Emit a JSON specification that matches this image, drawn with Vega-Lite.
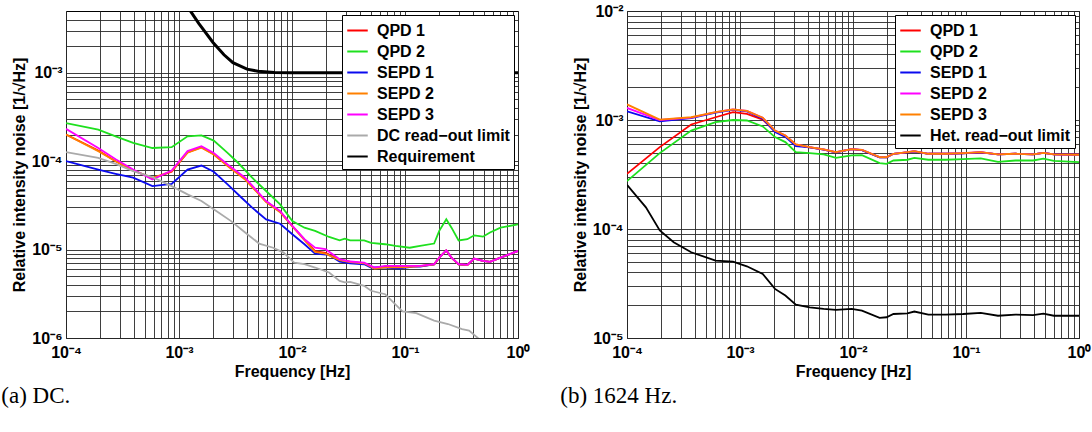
{
"$schema": "https://vega.github.io/schema/vega-lite/v6.json",
"padding": {"left": 0, "top": 2, "right": 0, "bottom": 0},
"background": "white",
"bounds": "flush",
"spacing": 109,
"config": {
 "view": {"stroke": "black", "strokeWidth": 1},
 "axis": {"grid": true, "gridColor": "#2a2a2a", "gridOpacity": 0.9, "gridWidth": 1, "domain": false, "ticks": false,
  "labelFont": "Liberation Sans", "labelFontWeight": "bold", "labelFontSize": 16, "labelColor": "black",
  "titleFont": "Liberation Sans", "titleFontWeight": "bold", "titleFontSize": 16, "titleColor": "black",
  "labelOverlap": false, "labelFlush": false},
 "legend": {"orient": "top-right", "offset": 4, "fillColor": "white", "strokeColor": "black", "padding": 4,
  "symbolType": "stroke", "symbolStrokeWidth": 2, "symbolSize": 420,
  "labelFont": "Liberation Sans", "labelFontWeight": "bold", "labelFontSize": 16, "labelColor": "black", "rowPadding": 1, "labelOffset": 8}
},
"datasets": {
 "dc": [
  {"s":"QPD 1","f":1e-4,"v":2.0e-4},{"s":"QPD 1","f":1.93e-4,"v":1.32e-4},{"s":"QPD 1","f":2.75e-4,"v":1.0e-4},{"s":"QPD 1","f":3.93e-4,"v":7.9e-5},{"s":"QPD 1","f":5.82e-4,"v":6.4e-5},{"s":"QPD 1","f":8.61e-4,"v":7.6e-5},{"s":"QPD 1","f":1.19e-3,"v":1.26e-4},{"s":"QPD 1","f":1.58e-3,"v":1.44e-4},{"s":"QPD 1","f":2.03e-3,"v":1.2e-4},{"s":"QPD 1","f":2.69e-3,"v":8.9e-5},{"s":"QPD 1","f":3.85e-3,"v":6.3e-5},{"s":"QPD 1","f":5.9e-3,"v":3.5e-5},{"s":"QPD 1","f":7.85e-3,"v":2.7e-5},{"s":"QPD 1","f":1.007e-2,"v":1.85e-5},{"s":"QPD 1","f":1.29e-2,"v":1.3e-5},{"s":"QPD 1","f":1.6e-2,"v":9.6e-6},{"s":"QPD 1","f":1.98e-2,"v":9.2e-6},{"s":"QPD 1","f":2.64e-2,"v":7.7e-6},{"s":"QPD 1","f":3.27e-2,"v":7.3e-6},{"s":"QPD 1","f":4.35e-2,"v":7.0e-6},{"s":"QPD 1","f":5.38e-2,"v":6.2e-6},{"s":"QPD 1","f":6.67e-2,"v":6.4e-6},{"s":"QPD 1","f":9.5e-2,"v":6.4e-6},{"s":"QPD 1","f":0.136,"v":6.5e-6},{"s":"QPD 1","f":0.181,"v":6.8e-6},{"s":"QPD 1","f":0.201,"v":8.1e-6},{"s":"QPD 1","f":0.232,"v":9.8e-6},{"s":"QPD 1","f":0.258,"v":8.1e-6},{"s":"QPD 1","f":0.298,"v":6.8e-6},{"s":"QPD 1","f":0.356,"v":6.7e-6},{"s":"QPD 1","f":0.41,"v":7.9e-6},{"s":"QPD 1","f":0.49,"v":7.45e-6},{"s":"QPD 1","f":0.565,"v":7.26e-6},{"s":"QPD 1","f":0.7,"v":8.1e-6},{"s":"QPD 1","f":1.0,"v":9.6e-6},

  {"s":"QPD 2","f":1e-4,"v":2.7e-4},{"s":"QPD 2","f":1.93e-4,"v":2.28e-4},{"s":"QPD 2","f":2.75e-4,"v":1.91e-4},{"s":"QPD 2","f":3.93e-4,"v":1.61e-4},{"s":"QPD 2","f":5.82e-4,"v":1.41e-4},{"s":"QPD 2","f":8.61e-4,"v":1.44e-4},{"s":"QPD 2","f":1.19e-3,"v":1.91e-4},{"s":"QPD 2","f":1.58e-3,"v":1.96e-4},{"s":"QPD 2","f":2.03e-3,"v":1.71e-4},{"s":"QPD 2","f":2.69e-3,"v":1.24e-4},{"s":"QPD 2","f":3.33e-3,"v":9.6e-5},{"s":"QPD 2","f":4.44e-3,"v":6.5e-5},{"s":"QPD 2","f":5.9e-3,"v":4.6e-5},{"s":"QPD 2","f":7.85e-3,"v":3.24e-5},{"s":"QPD 2","f":1.007e-2,"v":2.1e-5},{"s":"QPD 2","f":1.29e-2,"v":1.77e-5},{"s":"QPD 2","f":1.6e-2,"v":1.63e-5},{"s":"QPD 2","f":2.13e-2,"v":1.39e-5},{"s":"QPD 2","f":2.64e-2,"v":1.27e-5},{"s":"QPD 2","f":2.93e-2,"v":1.33e-5},{"s":"QPD 2","f":3.27e-2,"v":1.27e-5},{"s":"QPD 2","f":4.35e-2,"v":1.27e-5},{"s":"QPD 2","f":5.01e-2,"v":1.19e-5},{"s":"QPD 2","f":6.67e-2,"v":1.15e-5},{"s":"QPD 2","f":8.24e-2,"v":1.1e-5},{"s":"QPD 2","f":0.11,"v":1.05e-5},{"s":"QPD 2","f":0.136,"v":1.1e-5},{"s":"QPD 2","f":0.181,"v":1.17e-5},{"s":"QPD 2","f":0.201,"v":1.63e-5},{"s":"QPD 2","f":0.232,"v":2.2e-5},{"s":"QPD 2","f":0.258,"v":1.77e-5},{"s":"QPD 2","f":0.298,"v":1.27e-5},{"s":"QPD 2","f":0.356,"v":1.31e-5},{"s":"QPD 2","f":0.41,"v":1.45e-5},{"s":"QPD 2","f":0.49,"v":1.4e-5},{"s":"QPD 2","f":0.565,"v":1.56e-5},{"s":"QPD 2","f":0.7,"v":1.77e-5},{"s":"QPD 2","f":1.0,"v":1.93e-5},

  {"s":"SEPD 1","f":1e-4,"v":1.0e-4},{"s":"SEPD 1","f":1.93e-4,"v":8.05e-5},{"s":"SEPD 1","f":2.75e-4,"v":7.2e-5},{"s":"SEPD 1","f":3.93e-4,"v":6.5e-5},{"s":"SEPD 1","f":5.82e-4,"v":5.22e-5},{"s":"SEPD 1","f":8.61e-4,"v":5.55e-5},{"s":"SEPD 1","f":1.19e-3,"v":8.05e-5},{"s":"SEPD 1","f":1.58e-3,"v":8.93e-5},{"s":"SEPD 1","f":2.03e-3,"v":7.59e-5},{"s":"SEPD 1","f":2.69e-3,"v":5.46e-5},{"s":"SEPD 1","f":3.58e-3,"v":3.86e-5},{"s":"SEPD 1","f":4.44e-3,"v":2.98e-5},{"s":"SEPD 1","f":5.9e-3,"v":2.2e-5},{"s":"SEPD 1","f":7.85e-3,"v":1.96e-5},{"s":"SEPD 1","f":1.007e-2,"v":1.49e-5},{"s":"SEPD 1","f":1.29e-2,"v":1.15e-5},{"s":"SEPD 1","f":1.6e-2,"v":9.02e-6},{"s":"SEPD 1","f":2.13e-2,"v":8.71e-6},{"s":"SEPD 1","f":2.64e-2,"v":7.33e-6},{"s":"SEPD 1","f":3.27e-2,"v":7.01e-6},{"s":"SEPD 1","f":4.35e-2,"v":6.83e-6},{"s":"SEPD 1","f":5.01e-2,"v":6.27e-6},{"s":"SEPD 1","f":6.67e-2,"v":6.27e-6},{"s":"SEPD 1","f":8.85e-2,"v":6.1e-6},{"s":"SEPD 1","f":0.118,"v":6.43e-6},{"s":"SEPD 1","f":0.136,"v":6.43e-6},{"s":"SEPD 1","f":0.181,"v":6.8e-6},{"s":"SEPD 1","f":0.201,"v":8.1e-6},{"s":"SEPD 1","f":0.232,"v":9.8e-6},{"s":"SEPD 1","f":0.258,"v":8.1e-6},{"s":"SEPD 1","f":0.298,"v":6.8e-6},{"s":"SEPD 1","f":0.356,"v":6.7e-6},{"s":"SEPD 1","f":0.41,"v":7.9e-6},{"s":"SEPD 1","f":0.49,"v":7.45e-6},{"s":"SEPD 1","f":0.565,"v":7.26e-6},{"s":"SEPD 1","f":0.7,"v":8.1e-6},{"s":"SEPD 1","f":1.0,"v":9.6e-6},

  {"s":"SEPD 2","f":1e-4,"v":2.0e-4},{"s":"SEPD 2","f":1.93e-4,"v":1.3e-4},{"s":"SEPD 2","f":2.75e-4,"v":1.0e-4},{"s":"SEPD 2","f":3.93e-4,"v":7.85e-5},{"s":"SEPD 2","f":5.82e-4,"v":6.5e-5},{"s":"SEPD 2","f":8.61e-4,"v":7.7e-5},{"s":"SEPD 2","f":1.19e-3,"v":1.25e-4},{"s":"SEPD 2","f":1.58e-3,"v":1.42e-4},{"s":"SEPD 2","f":2.03e-3,"v":1.19e-4},{"s":"SEPD 2","f":2.69e-3,"v":8.8e-5},{"s":"SEPD 2","f":3.85e-3,"v":6.2e-5},{"s":"SEPD 2","f":5.9e-3,"v":3.45e-5},{"s":"SEPD 2","f":7.85e-3,"v":2.65e-5},{"s":"SEPD 2","f":1.007e-2,"v":1.83e-5},{"s":"SEPD 2","f":1.29e-2,"v":1.28e-5},{"s":"SEPD 2","f":1.6e-2,"v":9.4e-6},{"s":"SEPD 2","f":1.98e-2,"v":9.0e-6},{"s":"SEPD 2","f":2.64e-2,"v":7.6e-6},{"s":"SEPD 2","f":3.27e-2,"v":7.2e-6},{"s":"SEPD 2","f":4.35e-2,"v":7.0e-6},{"s":"SEPD 2","f":5.38e-2,"v":6.1e-6},{"s":"SEPD 2","f":6.67e-2,"v":6.3e-6},{"s":"SEPD 2","f":9.5e-2,"v":6.3e-6},{"s":"SEPD 2","f":0.136,"v":6.5e-6},{"s":"SEPD 2","f":0.181,"v":6.8e-6},{"s":"SEPD 2","f":0.201,"v":8.1e-6},{"s":"SEPD 2","f":0.232,"v":9.8e-6},{"s":"SEPD 2","f":0.258,"v":8.1e-6},{"s":"SEPD 2","f":0.298,"v":6.8e-6},{"s":"SEPD 2","f":0.356,"v":6.7e-6},{"s":"SEPD 2","f":0.41,"v":7.9e-6},{"s":"SEPD 2","f":0.49,"v":7.45e-6},{"s":"SEPD 2","f":0.565,"v":7.26e-6},{"s":"SEPD 2","f":0.7,"v":8.1e-6},{"s":"SEPD 2","f":1.0,"v":9.6e-6},

  {"s":"SEPD 3","f":1e-4,"v":2.32e-4},{"s":"SEPD 3","f":1.93e-4,"v":1.41e-4},{"s":"SEPD 3","f":2.75e-4,"v":1.05e-4},{"s":"SEPD 3","f":3.93e-4,"v":8.05e-5},{"s":"SEPD 3","f":5.82e-4,"v":6.21e-5},{"s":"SEPD 3","f":8.61e-4,"v":7.85e-5},{"s":"SEPD 3","f":1.19e-3,"v":1.3e-4},{"s":"SEPD 3","f":1.58e-3,"v":1.48e-4},{"s":"SEPD 3","f":2.03e-3,"v":1.24e-4},{"s":"SEPD 3","f":2.69e-3,"v":9.16e-5},{"s":"SEPD 3","f":3.85e-3,"v":6.5e-5},{"s":"SEPD 3","f":5.9e-3,"v":3.54e-5},{"s":"SEPD 3","f":7.85e-3,"v":2.73e-5},{"s":"SEPD 3","f":1.007e-2,"v":1.85e-5},{"s":"SEPD 3","f":1.29e-2,"v":1.31e-5},{"s":"SEPD 3","f":1.6e-2,"v":1.05e-5},{"s":"SEPD 3","f":1.98e-2,"v":1.01e-5},{"s":"SEPD 3","f":2.64e-2,"v":7.78e-6},{"s":"SEPD 3","f":3.27e-2,"v":7.33e-6},{"s":"SEPD 3","f":4.35e-2,"v":7.13e-6},{"s":"SEPD 3","f":5.38e-2,"v":6.27e-6},{"s":"SEPD 3","f":6.67e-2,"v":6.55e-6},{"s":"SEPD 3","f":9.5e-2,"v":6.55e-6},{"s":"SEPD 3","f":0.136,"v":6.55e-6},{"s":"SEPD 3","f":0.181,"v":6.83e-6},{"s":"SEPD 3","f":0.201,"v":8.13e-6},{"s":"SEPD 3","f":0.232,"v":9.82e-6},{"s":"SEPD 3","f":0.258,"v":8.13e-6},{"s":"SEPD 3","f":0.298,"v":6.83e-6},{"s":"SEPD 3","f":0.356,"v":6.71e-6},{"s":"SEPD 3","f":0.41,"v":7.91e-6},{"s":"SEPD 3","f":0.49,"v":7.45e-6},{"s":"SEPD 3","f":0.565,"v":7.26e-6},{"s":"SEPD 3","f":0.7,"v":8.13e-6},{"s":"SEPD 3","f":1.0,"v":9.66e-6},

  {"s":"DC read−out limit","f":1e-4,"v":1.27e-4},{"s":"DC read−out limit","f":1.93e-4,"v":1.09e-4},{"s":"DC read−out limit","f":2.75e-4,"v":9.33e-5},{"s":"DC read−out limit","f":3.93e-4,"v":7.71e-5},{"s":"DC read−out limit","f":5.82e-4,"v":6.61e-5},{"s":"DC read−out limit","f":8.61e-4,"v":5.22e-5},{"s":"DC read−out limit","f":1.19e-3,"v":4.21e-5},{"s":"DC read−out limit","f":1.58e-3,"v":3.54e-5},{"s":"DC read−out limit","f":2.17e-3,"v":2.69e-5},{"s":"DC read−out limit","f":2.89e-3,"v":2.1e-5},{"s":"DC read−out limit","f":3.85e-3,"v":1.56e-5},{"s":"DC read−out limit","f":5.12e-3,"v":1.17e-5},{"s":"DC read−out limit","f":6.81e-3,"v":1.05e-5},{"s":"DC read−out limit","f":8.43e-3,"v":9.25e-6},{"s":"DC read−out limit","f":1.045e-2,"v":7.13e-6},{"s":"DC read−out limit","f":1.29e-2,"v":6.83e-6},{"s":"DC read−out limit","f":1.6e-2,"v":6.27e-6},{"s":"DC read−out limit","f":2.13e-2,"v":5.51e-6},{"s":"DC read−out limit","f":2.64e-2,"v":4.43e-6},{"s":"DC read−out limit","f":2.93e-2,"v":4.25e-6},{"s":"DC read−out limit","f":3.27e-2,"v":4.32e-6},{"s":"DC read−out limit","f":4.35e-2,"v":3.89e-6},{"s":"DC read−out limit","f":5.01e-2,"v":3.42e-6},{"s":"DC read−out limit","f":6.67e-2,"v":3.13e-6},{"s":"DC read−out limit","f":9.5e-2,"v":2.0e-6},{"s":"DC read−out limit","f":0.126,"v":1.91e-6},{"s":"DC read−out limit","f":0.181,"v":1.57e-6},{"s":"DC read−out limit","f":0.24,"v":1.44e-6},{"s":"DC read−out limit","f":0.32,"v":1.26e-6},{"s":"DC read−out limit","f":0.369,"v":1.21e-6},{"s":"DC read−out limit","f":0.441,"v":1.0e-6},{"s":"DC read−out limit","f":0.565,"v":8.0e-7},

  {"s":"Requirement","f":1e-3,"v":8e-3},{"s":"Requirement","f":1.2e-3,"v":5.5e-3},{"s":"Requirement","f":1.5e-3,"v":3.6e-3},{"s":"Requirement","f":2e-3,"v":2.2e-3},{"s":"Requirement","f":2.5e-3,"v":1.6e-3},{"s":"Requirement","f":3e-3,"v":1.3e-3},{"s":"Requirement","f":4e-3,"v":1.1e-3},{"s":"Requirement","f":5e-3,"v":1.04e-3},{"s":"Requirement","f":7e-3,"v":1.01e-3},{"s":"Requirement","f":1e-2,"v":1.0e-3},{"s":"Requirement","f":1.0,"v":1.0e-3}
 ],
 "het": [
  {"s":"QPD 1","f":1e-4,"v":3.21e-4},{"s":"QPD 1","f":1.95e-4,"v":5.64e-4},{"s":"QPD 1","f":3.7e-4,"v":9.1e-4},{"s":"QPD 1","f":6.08e-4,"v":1.06e-3},{"s":"QPD 1","f":8.67e-4,"v":1.18e-3},{"s":"QPD 1","f":1.15e-3,"v":1.14e-3},{"s":"QPD 1","f":1.59e-3,"v":1.01e-3},{"s":"QPD 1","f":2.04e-3,"v":7.9e-4},{"s":"QPD 1","f":2.52e-3,"v":7.15e-4},{"s":"QPD 1","f":3.12e-3,"v":5.9e-4},{"s":"QPD 1","f":4.14e-3,"v":5.6e-4},{"s":"QPD 1","f":5.51e-3,"v":5.35e-4},{"s":"QPD 1","f":7.06e-3,"v":5.05e-4},{"s":"QPD 1","f":9.73e-3,"v":5.4e-4},{"s":"QPD 1","f":1.2e-2,"v":5.3e-4},{"s":"QPD 1","f":1.72e-2,"v":4.55e-4},{"s":"QPD 1","f":1.98e-2,"v":4.55e-4},{"s":"QPD 1","f":2.28e-2,"v":4.9e-4},{"s":"QPD 1","f":3.03e-2,"v":5.05e-4},{"s":"QPD 1","f":3.49e-2,"v":5.15e-4},{"s":"QPD 1","f":4.64e-2,"v":4.9e-4},{"s":"QPD 1","f":6.62e-2,"v":4.9e-4},{"s":"QPD 1","f":9.44e-2,"v":4.95e-4},{"s":"QPD 1","f":0.135,"v":5.05e-4},{"s":"QPD 1","f":0.192,"v":4.83e-4},{"s":"QPD 1","f":0.274,"v":4.9e-4},{"s":"QPD 1","f":0.392,"v":4.83e-4},{"s":"QPD 1","f":0.484,"v":5.0e-4},{"s":"QPD 1","f":0.6,"v":4.83e-4},{"s":"QPD 1","f":1.0,"v":4.8e-4},

  {"s":"QPD 2","f":1e-4,"v":2.75e-4},{"s":"QPD 2","f":1.95e-4,"v":4.97e-4},{"s":"QPD 2","f":3.7e-4,"v":8.0e-4},{"s":"QPD 2","f":6.08e-4,"v":9.57e-4},{"s":"QPD 2","f":8.67e-4,"v":1.0e-3},{"s":"QPD 2","f":1.15e-3,"v":9.9e-4},{"s":"QPD 2","f":1.59e-3,"v":8.73e-4},{"s":"QPD 2","f":2.04e-3,"v":6.97e-4},{"s":"QPD 2","f":2.52e-3,"v":6.27e-4},{"s":"QPD 2","f":3.12e-3,"v":5.07e-4},{"s":"QPD 2","f":4.14e-3,"v":4.97e-4},{"s":"QPD 2","f":5.51e-3,"v":4.83e-4},{"s":"QPD 2","f":7.06e-3,"v":4.5e-4},{"s":"QPD 2","f":9.73e-3,"v":4.73e-4},{"s":"QPD 2","f":1.2e-2,"v":4.76e-4},{"s":"QPD 2","f":1.72e-2,"v":4.02e-4},{"s":"QPD 2","f":1.98e-2,"v":3.96e-4},{"s":"QPD 2","f":2.28e-2,"v":4.25e-4},{"s":"QPD 2","f":3.03e-2,"v":4.32e-4},{"s":"QPD 2","f":3.49e-2,"v":4.5e-4},{"s":"QPD 2","f":4.64e-2,"v":4.32e-4},{"s":"QPD 2","f":6.62e-2,"v":4.32e-4},{"s":"QPD 2","f":9.44e-2,"v":4.38e-4},{"s":"QPD 2","f":0.135,"v":4.45e-4},{"s":"QPD 2","f":0.192,"v":4.13e-4},{"s":"QPD 2","f":0.274,"v":4.25e-4},{"s":"QPD 2","f":0.392,"v":4.25e-4},{"s":"QPD 2","f":0.484,"v":4.42e-4},{"s":"QPD 2","f":0.6,"v":4.22e-4},{"s":"QPD 2","f":1.0,"v":4.1e-4},

  {"s":"SEPD 1","f":1e-4,"v":1.2e-3},{"s":"SEPD 1","f":1.95e-4,"v":9.7e-4},{"s":"SEPD 1","f":3.7e-4,"v":1.04e-3},{"s":"SEPD 1","f":6.08e-4,"v":1.17e-3},{"s":"SEPD 1","f":8.67e-4,"v":1.24e-3},{"s":"SEPD 1","f":1.15e-3,"v":1.2e-3},{"s":"SEPD 1","f":1.59e-3,"v":1.03e-3},{"s":"SEPD 1","f":2.04e-3,"v":7.74e-4},{"s":"SEPD 1","f":2.52e-3,"v":7.0e-4},{"s":"SEPD 1","f":3.12e-3,"v":5.75e-4},{"s":"SEPD 1","f":4.14e-3,"v":5.6e-4},{"s":"SEPD 1","f":5.51e-3,"v":5.35e-4},{"s":"SEPD 1","f":7.06e-3,"v":5.05e-4},{"s":"SEPD 1","f":9.73e-3,"v":5.4e-4},{"s":"SEPD 1","f":1.2e-2,"v":5.3e-4},{"s":"SEPD 1","f":1.72e-2,"v":4.55e-4},{"s":"SEPD 1","f":1.98e-2,"v":4.55e-4},{"s":"SEPD 1","f":2.28e-2,"v":4.9e-4},{"s":"SEPD 1","f":3.03e-2,"v":5.05e-4},{"s":"SEPD 1","f":3.49e-2,"v":5.15e-4},{"s":"SEPD 1","f":4.64e-2,"v":4.9e-4},{"s":"SEPD 1","f":6.62e-2,"v":4.9e-4},{"s":"SEPD 1","f":9.44e-2,"v":4.95e-4},{"s":"SEPD 1","f":0.135,"v":5.05e-4},{"s":"SEPD 1","f":0.192,"v":4.83e-4},{"s":"SEPD 1","f":0.274,"v":4.9e-4},{"s":"SEPD 1","f":0.392,"v":4.83e-4},{"s":"SEPD 1","f":0.484,"v":5.0e-4},{"s":"SEPD 1","f":0.6,"v":4.83e-4},{"s":"SEPD 1","f":1.0,"v":4.8e-4},

  {"s":"SEPD 2","f":1e-4,"v":1.29e-3},{"s":"SEPD 2","f":1.95e-4,"v":1.0e-3},{"s":"SEPD 2","f":3.7e-4,"v":1.05e-3},{"s":"SEPD 2","f":6.08e-4,"v":1.18e-3},{"s":"SEPD 2","f":8.67e-4,"v":1.25e-3},{"s":"SEPD 2","f":1.15e-3,"v":1.21e-3},{"s":"SEPD 2","f":1.59e-3,"v":1.05e-3},{"s":"SEPD 2","f":2.04e-3,"v":8.0e-4},{"s":"SEPD 2","f":2.52e-3,"v":7.21e-4},{"s":"SEPD 2","f":3.12e-3,"v":5.97e-4},{"s":"SEPD 2","f":4.14e-3,"v":5.64e-4},{"s":"SEPD 2","f":5.51e-3,"v":5.37e-4},{"s":"SEPD 2","f":7.06e-3,"v":5.07e-4},{"s":"SEPD 2","f":9.73e-3,"v":5.41e-4},{"s":"SEPD 2","f":1.2e-2,"v":5.33e-4},{"s":"SEPD 2","f":1.72e-2,"v":4.56e-4},{"s":"SEPD 2","f":1.98e-2,"v":4.56e-4},{"s":"SEPD 2","f":2.28e-2,"v":4.9e-4},{"s":"SEPD 2","f":3.03e-2,"v":5.07e-4},{"s":"SEPD 2","f":3.49e-2,"v":5.18e-4},{"s":"SEPD 2","f":4.64e-2,"v":4.9e-4},{"s":"SEPD 2","f":6.62e-2,"v":4.9e-4},{"s":"SEPD 2","f":9.44e-2,"v":4.97e-4},{"s":"SEPD 2","f":0.135,"v":5.07e-4},{"s":"SEPD 2","f":0.192,"v":4.83e-4},{"s":"SEPD 2","f":0.274,"v":4.9e-4},{"s":"SEPD 2","f":0.392,"v":4.83e-4},{"s":"SEPD 2","f":0.484,"v":5.0e-4},{"s":"SEPD 2","f":0.6,"v":4.83e-4},{"s":"SEPD 2","f":1.0,"v":4.8e-4},

  {"s":"SEPD 3","f":1e-4,"v":1.39e-3},{"s":"SEPD 3","f":1.95e-4,"v":1.01e-3},{"s":"SEPD 3","f":3.7e-4,"v":1.06e-3},{"s":"SEPD 3","f":6.08e-4,"v":1.18e-3},{"s":"SEPD 3","f":8.67e-4,"v":1.25e-3},{"s":"SEPD 3","f":1.15e-3,"v":1.21e-3},{"s":"SEPD 3","f":1.59e-3,"v":1.05e-3},{"s":"SEPD 3","f":2.04e-3,"v":8.0e-4},{"s":"SEPD 3","f":2.52e-3,"v":7.21e-4},{"s":"SEPD 3","f":3.12e-3,"v":5.97e-4},{"s":"SEPD 3","f":4.14e-3,"v":5.64e-4},{"s":"SEPD 3","f":5.51e-3,"v":5.37e-4},{"s":"SEPD 3","f":7.06e-3,"v":5.07e-4},{"s":"SEPD 3","f":9.73e-3,"v":5.41e-4},{"s":"SEPD 3","f":1.2e-2,"v":5.33e-4},{"s":"SEPD 3","f":1.72e-2,"v":4.56e-4},{"s":"SEPD 3","f":1.98e-2,"v":4.56e-4},{"s":"SEPD 3","f":2.28e-2,"v":4.9e-4},{"s":"SEPD 3","f":3.03e-2,"v":5.07e-4},{"s":"SEPD 3","f":3.49e-2,"v":5.18e-4},{"s":"SEPD 3","f":4.64e-2,"v":4.9e-4},{"s":"SEPD 3","f":6.62e-2,"v":4.9e-4},{"s":"SEPD 3","f":9.44e-2,"v":4.97e-4},{"s":"SEPD 3","f":0.135,"v":5.07e-4},{"s":"SEPD 3","f":0.192,"v":4.83e-4},{"s":"SEPD 3","f":0.274,"v":4.9e-4},{"s":"SEPD 3","f":0.392,"v":4.83e-4},{"s":"SEPD 3","f":0.484,"v":5.0e-4},{"s":"SEPD 3","f":0.6,"v":4.83e-4},{"s":"SEPD 3","f":1.0,"v":4.8e-4},

  {"s":"Het. read−out limit","f":1e-4,"v":2.54e-4},{"s":"Het. read−out limit","f":1.47e-4,"v":1.58e-4},{"s":"Het. read−out limit","f":1.95e-4,"v":9.7e-5},{"s":"Het. read−out limit","f":2.59e-4,"v":7.57e-5},{"s":"Het. read−out limit","f":3.7e-4,"v":6.12e-5},{"s":"Het. read−out limit","f":6.08e-4,"v":5.13e-5},{"s":"Het. read−out limit","f":8.67e-4,"v":5.02e-5},{"s":"Het. read−out limit","f":1.15e-3,"v":4.55e-5},{"s":"Het. read−out limit","f":1.59e-3,"v":3.87e-5},{"s":"Het. read−out limit","f":2.04e-3,"v":2.82e-5},{"s":"Het. read−out limit","f":2.52e-3,"v":2.45e-5},{"s":"Het. read−out limit","f":3.12e-3,"v":2.02e-5},{"s":"Het. read−out limit","f":4.14e-3,"v":1.91e-5},{"s":"Het. read−out limit","f":5.51e-3,"v":1.85e-5},{"s":"Het. read−out limit","f":7.06e-3,"v":1.81e-5},{"s":"Het. read−out limit","f":9.73e-3,"v":1.85e-5},{"s":"Het. read−out limit","f":1.2e-2,"v":1.78e-5},{"s":"Het. read−out limit","f":1.72e-2,"v":1.53e-5},{"s":"Het. read−out limit","f":1.98e-2,"v":1.55e-5},{"s":"Het. read−out limit","f":2.28e-2,"v":1.66e-5},{"s":"Het. read−out limit","f":3.03e-2,"v":1.68e-5},{"s":"Het. read−out limit","f":3.49e-2,"v":1.75e-5},{"s":"Het. read−out limit","f":4.64e-2,"v":1.64e-5},{"s":"Het. read−out limit","f":6.62e-2,"v":1.64e-5},{"s":"Het. read−out limit","f":9.44e-2,"v":1.66e-5},{"s":"Het. read−out limit","f":0.135,"v":1.7e-5},{"s":"Het. read−out limit","f":0.192,"v":1.6e-5},{"s":"Het. read−out limit","f":0.274,"v":1.64e-5},{"s":"Het. read−out limit","f":0.392,"v":1.62e-5},{"s":"Het. read−out limit","f":0.484,"v":1.67e-5},{"s":"Het. read−out limit","f":0.6,"v":1.6e-5},{"s":"Het. read−out limit","f":1.0,"v":1.6e-5}
 ]
},
"hconcat": [
 {
  "width": 452, "height": 327,
  "data": {"name": "dc"},
  "title": {"text": "(a) DC.", "orient": "bottom", "anchor": "start", "frame": "bounds", "font": "Liberation Serif", "fontSize": 23, "fontWeight": "normal", "color": "black", "offset": 6, "dx": -10},
  "encoding": {
   "x": {"field": "f", "type": "quantitative", "scale": {"type": "log", "domain": [0.0001, 1], "nice": false},
    "axis": {"title": "Frequency [Hz]", "labelPadding": 6, "titlePadding": 3,
     "values": [0.0001,0.0002,0.0003,0.0004,0.0005,0.0006,0.0007,0.0008,0.0009,0.001,0.002,0.003,0.004,0.005,0.006,0.007,0.008,0.009,0.01,0.02,0.03,0.04,0.05,0.06,0.07,0.08,0.09,0.1,0.2,0.3,0.4,0.5,0.6,0.7,0.8,0.9,1],
     "labelExpr": "abs(log(datum.value)/LN10-round(log(datum.value)/LN10))>0.01?'':round(log(datum.value)/LN10)==-6?'10⁻⁶':round(log(datum.value)/LN10)==-5?'10⁻⁵':round(log(datum.value)/LN10)==-4?'10⁻⁴':round(log(datum.value)/LN10)==-3?'10⁻³':round(log(datum.value)/LN10)==-2?'10⁻²':round(log(datum.value)/LN10)==-1?'10⁻¹':'10⁰'"}},
   "y": {"field": "v", "type": "quantitative", "scale": {"type": "log", "domain": [0.000001, 0.005], "nice": false},
    "axis": {"title": "Relative intensity noise [1/√Hz]", "labelPadding": 4, "titlePadding": 4,
     "values": [0.000001,0.000002,0.000003,0.000004,0.000005,0.000006,0.000007,0.000008,0.000009,0.00001,0.00002,0.00003,0.00004,0.00005,0.00006,0.00007,0.00008,0.00009,0.0001,0.0002,0.0003,0.0004,0.0005,0.0006,0.0007,0.0008,0.0009,0.001,0.002,0.003,0.004],
     "labelExpr": "abs(log(datum.value)/LN10-round(log(datum.value)/LN10))>0.01?'':round(log(datum.value)/LN10)==-6?'10⁻⁶':round(log(datum.value)/LN10)==-5?'10⁻⁵':round(log(datum.value)/LN10)==-4?'10⁻⁴':round(log(datum.value)/LN10)==-3?'10⁻³':round(log(datum.value)/LN10)==-2?'10⁻²':round(log(datum.value)/LN10)==-1?'10⁻¹':'10⁰'"}},
   "color": {"field": "s", "type": "nominal",
    "scale": {"domain": ["QPD 1","QPD 2","SEPD 1","SEPD 2","SEPD 3","DC read−out limit","Requirement"],
     "range": ["#ff0000","#1ee01e","#0a0aee","#ff8000","#ff00ff","#aaaaaa","#000000"]},
    "legend": {"title": null}}
  },
  "layer": [
   {"transform": [{"filter": "datum.s != 'Requirement'"}], "mark": {"type": "line", "clip": true, "strokeWidth": 1.8}},
   {"transform": [{"filter": "datum.s == 'Requirement'"}], "mark": {"type": "line", "clip": true, "strokeWidth": 3}}
  ]
 },
 {
  "width": 452, "height": 327,
  "data": {"name": "het"},
  "title": {"text": "(b) 1624 Hz.", "orient": "bottom", "anchor": "start", "frame": "bounds", "font": "Liberation Serif", "fontSize": 23, "fontWeight": "normal", "color": "black", "offset": 6, "dx": -12},
  "mark": {"type": "line", "clip": true, "strokeWidth": 1.8},
  "encoding": {
   "x": {"field": "f", "type": "quantitative", "scale": {"type": "log", "domain": [0.0001, 1], "nice": false},
    "axis": {"title": "Frequency [Hz]", "labelPadding": 6, "titlePadding": 3,
     "values": [0.0001,0.0002,0.0003,0.0004,0.0005,0.0006,0.0007,0.0008,0.0009,0.001,0.002,0.003,0.004,0.005,0.006,0.007,0.008,0.009,0.01,0.02,0.03,0.04,0.05,0.06,0.07,0.08,0.09,0.1,0.2,0.3,0.4,0.5,0.6,0.7,0.8,0.9,1],
     "labelExpr": "abs(log(datum.value)/LN10-round(log(datum.value)/LN10))>0.01?'':round(log(datum.value)/LN10)==-6?'10⁻⁶':round(log(datum.value)/LN10)==-5?'10⁻⁵':round(log(datum.value)/LN10)==-4?'10⁻⁴':round(log(datum.value)/LN10)==-3?'10⁻³':round(log(datum.value)/LN10)==-2?'10⁻²':round(log(datum.value)/LN10)==-1?'10⁻¹':'10⁰'"}},
   "y": {"field": "v", "type": "quantitative", "scale": {"type": "log", "domain": [0.00001, 0.01], "nice": false},
    "axis": {"title": "Relative intensity noise [1/√Hz]", "labelPadding": 4, "titlePadding": 4,
     "values": [0.00001,0.00002,0.00003,0.00004,0.00005,0.00006,0.00007,0.00008,0.00009,0.0001,0.0002,0.0003,0.0004,0.0005,0.0006,0.0007,0.0008,0.0009,0.001,0.002,0.003,0.004,0.005,0.006,0.007,0.008,0.009,0.01],
     "labelExpr": "abs(log(datum.value)/LN10-round(log(datum.value)/LN10))>0.01?'':round(log(datum.value)/LN10)==-6?'10⁻⁶':round(log(datum.value)/LN10)==-5?'10⁻⁵':round(log(datum.value)/LN10)==-4?'10⁻⁴':round(log(datum.value)/LN10)==-3?'10⁻³':round(log(datum.value)/LN10)==-2?'10⁻²':round(log(datum.value)/LN10)==-1?'10⁻¹':'10⁰'"}},
   "color": {"field": "s", "type": "nominal",
    "scale": {"domain": ["QPD 1","QPD 2","SEPD 1","SEPD 2","SEPD 3","Het. read−out limit"],
     "range": ["#ff0000","#1ee01e","#0a0aee","#ff00ff","#ff8000","#000000"]},
    "legend": {"title": null}}
  }
 }
],
"resolve": {"scale": {"color": "independent", "x": "independent", "y": "independent"}, "legend": {"color": "independent"}}
}
